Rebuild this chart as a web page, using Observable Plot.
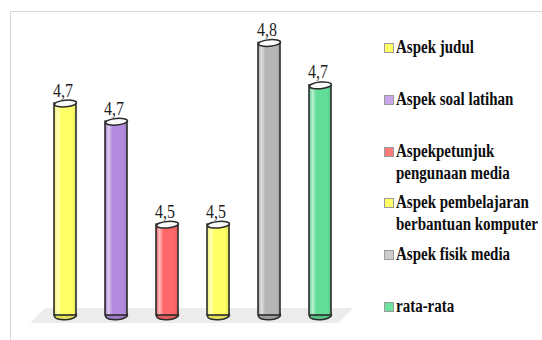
<!DOCTYPE html>
<html>
<head>
<meta charset="utf-8">
<script src="https://cdn.jsdelivr.net/npm/d3@7"></script>
<script src="https://cdn.jsdelivr.net/npm/@observablehq/plot@0.6"></script>
<style>
  html, body { margin: 0; padding: 0; background: #fff; }
  #chart { position: relative; width: 542px; height: 340px; overflow: hidden; }
  #frame { position: absolute; left: 10px; top: 11px; right: -2px; bottom: -2px;
           border-top: 1px solid #d9d9d9; border-left: 1px solid #d9d9d9; pointer-events: none; }
  #plot { position: absolute; left: 0; top: 0; }
  .item { position: absolute; left: 384px; height: 46px; }
  .sw { position: absolute; left: 0; top: 7px; width: 8px; height: 8px; border: 1px solid #9a9a9a; }
  .lab { position: absolute; left: 12px; top: 0; white-space: pre;
         font-family: "Liberation Serif", "DejaVu Serif", serif; font-weight: bold;
         font-size: 18px; line-height: 22px; color: #0d0d0d; transform-origin: 0 0; }
</style>
</head>
<body>
<div id="chart">
  <div id="plot"></div>
  <div id="legend"></div>
  <div id="frame"></div>
</div>
<script>
// Mean scores per aspect
const categories = [
  "Aspek judul",
  "Aspek soal latihan",
  "Aspekpetunjuk pengunaan media",
  "Aspek pembelajaran berbantuan komputer",
  "Aspek fisik media",
  "rata-rata"
];
const legendLabels = [
  "Aspek judul",
  "Aspek soal latihan",
  "Aspekpetunjuk\npengunaan media",
  "Aspek pembelajaran\nberbantuan komputer",
  "Aspek fisik media",
  "rata-rata"
];
const values = [4.70, 4.67, 4.50, 4.50, 4.80, 4.73];
const colors = ["#ffff66", "#b48ade", "#ff6868", "#ffff66", "#b6b6b6", "#62de98"];
const swatchColors = ["#ffff66", "#c7a6ea", "#ff7a7a", "#ffff66", "#cccccc", "#6ee0a0"];
const baseline = 4.35;

const serif = "'Liberation Serif', 'DejaVu Serif', serif";
const data = categories.map((name, i) => ({name, value: values[i], color: colors[i], i}));
const fmt = v => d3.format(".1f")(v).replace(".", ",");

// Condense the serif text so its width matches the narrow face of the chart
const ctx = document.createElement("canvas").getContext("2d");
ctx.font = `bold 18px ${serif}`;
const legendSqueeze = 142 / ctx.measureText("berbantuan komputer").width;
ctx.font = `18px ${serif}`;
const labelSqueeze = 20 / ctx.measureText("4,7").width;

// Ellipse symbol for the cylinder caps; k is the vertical/horizontal ratio
const ellipse = k => ({
  draw(c2, size) {
    const rx = Math.sqrt(size / Math.PI), ry = rx * k, c = 0.5523;
    c2.moveTo(rx, 0);
    c2.bezierCurveTo(rx, ry * c, rx * c, ry, 0, ry);
    c2.bezierCurveTo(-rx * c, ry, -rx, ry * c, -rx, 0);
    c2.bezierCurveTo(-rx, -ry * c, -rx * c, -ry, 0, -ry);
    c2.bezierCurveTo(rx * c, -ry, rx, -ry * c, rx, 0);
    c2.closePath();
  }
});

const outline = "#2b2b2b";

const plot = Plot.plot({
  width: 542,
  height: 340,
  marginTop: 0, marginBottom: 0, marginLeft: 0, marginRight: 0,
  style: {background: "transparent", fontFamily: serif, overflow: "visible"},
  x: {domain: categories, range: [24.1, 360.8], padding: 0.57, axis: null},
  y: {domain: [baseline, 4.8], range: [315, 42.5], axis: null},
  marks: [
    // bottom caps
    Plot.dot(data, {x: "name", y: () => baseline, r: 11, symbol: ellipse(0.39),
      fill: d => d3.color(d.color).darker(0.35).formatHex(), stroke: outline, strokeWidth: 1.5, rotate: -4}),
    // cylinder bodies
    Plot.barY(data, {x: "name", y1: () => baseline, y2: "value",
      fill: d => `url(#cyl${d.i})`, stroke: outline, strokeWidth: 1.6}),
    // top caps
    Plot.dot(data, {x: "name", y: "value", r: 11, symbol: ellipse(0.3),
      fill: "#fbfbfb", stroke: outline, strokeWidth: 1.5, rotate: -5}),
    // value labels
    Plot.text(data, {x: "name", y: "value", text: d => fmt(d.value), dy: -7, dx: -2.5,
      lineAnchor: "bottom", fontSize: 18, fill: "#1e1e1e", fontFamily: serif})
  ]
});

// Horizontal shading gradients for the cylinder bodies
const defs = d3.select(plot).insert("defs", ":first-child");
data.forEach(d => {
  const base = d3.color(d.color);
  const g = defs.append("linearGradient").attr("id", `cyl${d.i}`).attr("x1", 0).attr("x2", 1).attr("y1", 0).attr("y2", 0);
  const light = d3.interpolateRgb(d.color, "#ffffff")(0.55);
  [[0, base.darker(0.25)], [0.16, light], [0.34, base], [0.82, base], [1, base.darker(0.3)]]
    .forEach(([o, c]) => g.append("stop").attr("offset", o).attr("stop-color", d3.color(c).formatHex()));
});

// Floor plane under the cylinders, placed from the scales
const sx = plot.scale("x"), sy = plot.scale("y");
const [r0, r1] = sx.range;
const y0 = sy.apply(baseline);
const floor = [[r0 + 21, y0 - 7], [r1 - 8, y0 - 7], [r1 - 22, y0 + 8], [r0 + 6, y0 + 8]];
d3.select(plot).insert("polygon", "defs + *")
  .attr("points", floor.map(p => p.join(",")).join(" "))
  .attr("fill", "#ececec");

plot.querySelectorAll('g[aria-label="text"] text').forEach(t => {
  const x = +t.getAttribute("x") || 0, y = +t.getAttribute("y") || 0;
  const tr = t.getAttribute("transform") || "";
  t.removeAttribute("x"); t.removeAttribute("y");
  t.setAttribute("transform", `${tr} translate(${x},${y}) scale(${labelSqueeze},1)`);
});

document.getElementById("plot").appendChild(plot);

// Legend
const legend = d3.select("#legend");
legendLabels.forEach((label, i) => {
  const item = legend.append("div").attr("class", "item").style("top", `${36 + i * 51.8}px`);
  item.append("div").attr("class", "sw").style("background", swatchColors[i]);
  item.append("div").attr("class", "lab").style("transform", `scaleX(${legendSqueeze})`).text(label);
});
</script>
</body>
</html>
